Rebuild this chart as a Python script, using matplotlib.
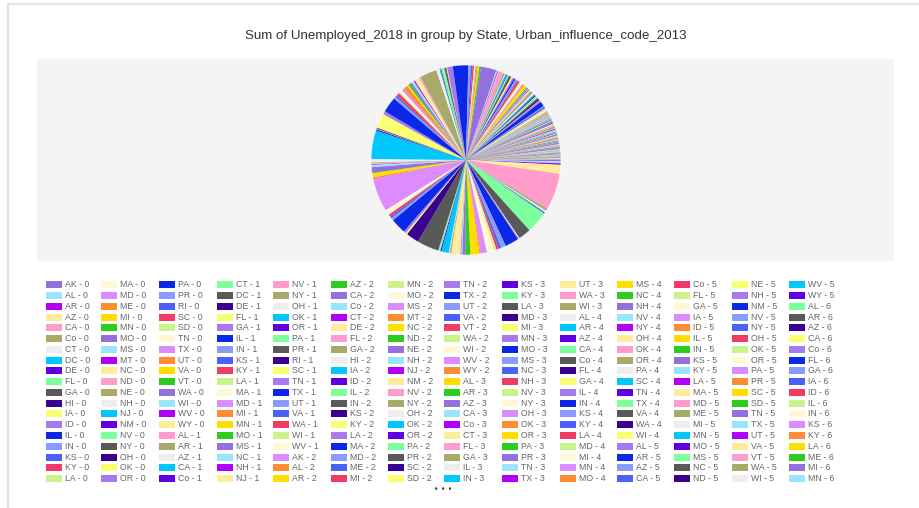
import matplotlib
matplotlib.use("Agg")
import matplotlib.pyplot as plt
from matplotlib.patches import Rectangle, Circle
from matplotlib.lines import Line2D

# ---------------- data ----------------
title = "Sum of Unemployed_2018 in group by State, Urban_influence_code_2013"

states_0 = ["AK", "AL", "AR", "AZ", "CA", "Co", "CT", "DC", "DE", "FL", "GA", "HI", "IA", "ID",
            "IL", "IN", "KS", "KY", "LA", "MA", "MD", "ME", "MI", "MN", "MO", "MS", "MT", "NC",
            "ND", "NE", "NH", "NJ", "NM", "NV", "NY", "OH", "OK", "OR", "PA", "PR", "RI", "SC",
            "SD", "TN", "TX", "UT", "VA", "VT", "WA", "WI", "WV", "WY"]
values_0 = [0.8, 1.2, 1.0, 5.5, 22.5, 1.5, 1.0, 0.5, 0.5, 13.5, 7.0, 0.6, 0.6, 0.6,
            8.5, 3.0, 1.5, 1.5, 1.5, 4.5, 4.0, 0.7, 5.5, 3.0, 2.0, 0.8, 0.3, 5.5,
            0.3, 0.8, 0.5, 4.5, 0.8, 1.2, 13.5, 8.0, 1.0, 1.5, 9.5, 1.5, 1.2, 1.5,
            0.3, 3.0, 20.5, 1.0, 2.5, 0.2, 3.5, 1.5, 0.4, 0.2]

states_1 = ["AL", "AR", "AZ", "CA", "Co", "CT", "DC", "DE", "FL", "GA", "IL", "IN", "KS", "KY",
            "LA", "MA", "MD", "MI", "MN", "MO", "MS", "NC", "NH", "NJ", "NV", "NY", "OH", "OK",
            "OR", "PA", "PR", "RI", "SC", "TN", "TX", "UT", "VA", "WA", "WI", "WV"]
values_1 = [0.5, 0.4, 2.0, 17.5, 0.8, 0.3, 0.5, 0.3, 9.0, 2.0, 9.5, 1.5, 1.0, 2.0,
            1.0, 1.5, 1.5, 2.5, 1.0, 1.0, 1.5, 1.5, 0.8, 3.0, 1.0, 10.5, 2.0, 0.5,
            0.5, 2.0, 0.8, 0.4, 0.5, 3.5, 9.5, 1.5, 1.0, 1.0, 0.5, 0.4]

states_2 = ["AK", "AL", "AR", "AZ", "CA", "Co", "CT", "DE", "FL", "GA", "HI", "IA", "ID", "IL",
            "IN", "KS", "KY", "LA", "MA", "MD", "ME", "MI", "MN", "MO", "MS", "MT", "NC", "ND",
            "NE", "NH", "NJ", "NM", "NV", "NY", "OH", "OK", "OR", "PA", "PR", "SC", "SD", "TN",
            "TX", "UT", "VA", "VT", "WA", "WI", "WV", "WY"]
values_2 = [0.6, 0.8, 1.0, 1.0, 9.5, 0.8, 0.5, 0.3, 3.0, 1.0, 0.5, 0.8, 0.5, 1.0,
            1.0, 0.5, 1.0, 1.0, 1.0, 1.0, 0.5, 1.5, 1.0, 1.0, 0.8, 0.5, 2.0, 0.5,
            0.8, 0.5, 0.5, 0.8, 0.5, 1.5, 1.0, 0.8, 0.8, 1.5, 0.8, 1.0, 0.3, 1.0,
            3.0, 0.5, 1.0, 0.3, 1.0, 0.8, 0.5, 0.3]

states_3 = ["AL", "AR", "AZ", "CA", "Co", "CT", "FL", "GA", "IL", "IN", "KS", "KY", "LA", "MD",
            "MI", "MN", "MO", "MS", "NC", "NH", "NV", "NY", "OH", "OK", "OR", "PA", "PR", "TN",
            "TX", "UT", "WA", "WI"]
values_3 = [0.5, 0.4, 0.3, 0.8, 0.3, 0.2, 0.6, 0.5, 0.4, 0.4, 0.2, 0.5, 0.4, 0.2,
            0.5, 0.3, 0.4, 0.3, 0.6, 0.2, 0.2, 0.5, 0.5, 0.3, 0.3, 0.5, 0.4, 0.4,
            0.6, 0.2, 0.3, 0.3]

states_4 = ["AL", "AR", "AZ", "CA", "Co", "FL", "GA", "IL", "IN", "KS", "KY", "LA", "MD", "MI",
            "MN", "MO", "MS", "NC", "NH", "NV", "NY", "OH", "OK", "OR", "PA", "SC", "TN", "TX",
            "VA", "WA", "WI"]
values_4 = [0.3, 0.3, 0.2, 0.4, 0.2, 0.3, 0.4, 0.2, 0.2, 0.1, 0.3, 0.2, 0.1, 0.3,
            0.2, 0.3, 0.3, 0.3, 0.1, 0.1, 0.3, 0.2, 0.2, 0.2, 0.2, 0.2, 0.3, 0.4,
            0.2, 0.2, 0.2]

states_5 = ["AL", "AR", "AZ", "CA", "Co", "FL", "GA", "IA", "ID", "IL", "IN", "KS", "KY", "LA",
            "MA", "MD", "ME", "MI", "MN", "MO", "MS", "NC", "ND", "NE", "NH", "NM", "NV", "NY",
            "OH", "OK", "OR", "PA", "PR", "SC", "SD", "TN", "TX", "UT", "VA", "VT", "WA", "WI",
            "WV", "WY"]
values_5 = [0.2, 0.2, 0.1, 0.2, 0.2, 0.1, 0.2, 0.1, 0.1, 0.1, 0.1, 0.1, 0.2, 0.1,
            0.05, 0.05, 0.1, 0.2, 0.1, 0.2, 0.2, 0.2, 0.05, 0.1, 0.05, 0.2, 0.05, 0.2,
            0.2, 0.2, 0.2, 0.1, 0.1, 0.1, 0.05, 0.2, 0.2, 0.1, 0.2, 0.05, 0.1, 0.2,
            0.2, 0.05]

# code 6: the first 17 are shown on legend page 1, the rest sit on later legend pages
states_6 = ["AL", "AR", "AZ", "CA", "Co", "FL", "GA", "IA", "ID", "IL", "IN", "KS", "KY", "LA",
            "ME", "MI", "MN", "MO", "MS", "MT", "NC", "ND", "NE", "NH", "NM", "NV", "NY", "OH",
            "OK", "OR", "PA", "SC", "SD", "TN", "TX", "UT", "VA", "VT", "WA", "WI", "WV", "WY"]
values_6 = [0.2, 0.2, 0.1, 0.1, 0.1, 0.1, 0.2, 0.1, 0.1, 0.1, 0.1, 0.05, 0.2, 0.1,
            0.1, 0.1, 0.1, 0.1, 0.2, 0.05, 0.2, 0.05, 0.05, 0.05, 0.1, 0.05, 0.1, 0.1,
            0.1, 0.1, 0.1, 0.1, 0.05, 0.2, 0.2, 0.05, 0.2, 0.05, 0.1, 0.1, 0.1, 0.05]

palette = ["#9370DB", "#99E5FF", "#B000F8", "#FFEB9C", "#FF9CCB", "#A8AA6A",
           "#EEEEEE", "#00C8FF", "#5E00E0", "#7DFF9E", "#595959", "#3A0090",
           "#F8FF70", "#A77AF0", "#0A28E6", "#8A9CFF", "#4A60F8", "#F03C64",
           "#CCF28A", "#FFF8D6", "#DC8CFF", "#FF8C33", "#FFDD00", "#2ECC1E"]

groups = [(0, states_0, values_0), (1, states_1, values_1), (2, states_2, values_2),
          (3, states_3, values_3), (4, states_4, values_4), (5, states_5, values_5),
          (6, states_6, values_6)]
labels, values = [], []
for code, sts, vals in groups:
    for s, v in zip(sts, vals):
        labels.append(f"{s} - {code}")
        values.append(v)
colors = [palette[i % len(palette)] for i in range(len(values))]

# ---------------- figure ----------------
W, H = 920, 508
fig = plt.figure(figsize=(W / 100, H / 100), dpi=100)
fig.patch.set_facecolor("white")


def fx(x):
    return x / W


def fy(y):
    return 1 - y / H


# outer frame lines
fig.add_artist(Line2D([fx(8), fx(8)], [fy(4), fy(508)], transform=fig.transFigure,
                      color="#e4e4e4", lw=1.5, zorder=-5))
fig.add_artist(Line2D([fx(8), fx(920)], [fy(4), fy(4)], transform=fig.transFigure,
                      color="#e4e4e4", lw=1.5, zorder=-5))

# plot panel
fig.add_artist(Rectangle((fx(37), fy(261)), fx(894) - fx(37), fy(59) - fy(261),
                         transform=fig.transFigure, facecolor="#f4f4f4", edgecolor="none",
                         zorder=-5))

fig.text(fx(466), fy(36), title, ha="center", va="center", fontsize=9.6,
         family="Liberation Sans", color="#333333")

# pie
cx, cy, r = 466, 160, 95
ax = fig.add_axes([fx(cx - r - 2), fy(cy + r + 2), (2 * r + 4) / W, (2 * r + 4) / H])
ax.set_zorder(2)
ax.patch.set_visible(False)
wedges, _ = ax.pie(values, colors=colors, startangle=0, counterclock=False,
                   radius=1, wedgeprops=dict(linewidth=0, antialiased=True))
ax.add_patch(Circle((0, 0), 1.0, facecolor="none", edgecolor="white", lw=0.6, alpha=0.7))
lim = (r + 2) / r
ax.set_xlim(-lim, lim)
ax.set_ylim(-lim, lim)
ax.axis("off")

# legend (first page: 14 columns x 19 rows, column-major)
n_rows = 19
col_x = [46, 101, 159, 216.7, 273.3, 331, 388.3, 444.3, 502.3, 560, 617.3, 674.3, 732.3, 789.3]
row0, pitch = 284.7, 10.77
n_show = n_rows * len(col_x)
for i, (lab, w) in enumerate(zip(labels[:n_show], wedges[:n_show])):
    c, rr = divmod(i, n_rows)
    x = col_x[c]
    y = row0 + rr * pitch
    fig.add_artist(Rectangle((fx(x), fy(y + 3.5)), 16 / W, 7 / H, transform=fig.transFigure,
                             facecolor=w.get_facecolor(), edgecolor="none"))
    fig.text(fx(x + 19), fy(y), lab, ha="left", va="center", fontsize=6.3,
             family="Liberation Sans", color="#666666")

fig.text(fx(443), fy(489), "\u2022 \u2022 \u2022", ha="center", va="center", fontsize=5.5,
         color="#444444")

fig.savefig("out.png", dpi=100, facecolor="white")
